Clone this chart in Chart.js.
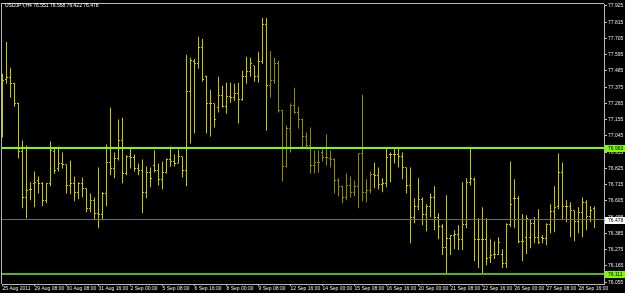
<!DOCTYPE html>
<html>
<head>
<meta charset="utf-8">
<script src="https://cdn.jsdelivr.net/npm/chart.js@4.4.0/dist/chart.umd.min.js"></script>
<style>
  html, body { margin: 0; padding: 0; background: #000; }
  #wrap { width: 625px; height: 293px; }
</style>
</head>
<body>
<div id="wrap"><canvas id="chart"></canvas></div>
<script>
const symbol = 'USDJPY,H4';

// H4 bars, oldest first
const opens = [
  77.426, 77.426, 77.439, 77.399, 77.264, 76.940, 76.629, 76.683, 76.724, 76.744,
  76.724, 76.609, 76.724, 76.940, 76.825, 76.859, 76.852, 76.710, 76.724, 76.663,
  76.724, 76.690, 76.555, 76.609, 76.521, 76.515, 76.656, 76.866, 76.825, 76.893,
  77.014, 76.791, 76.906, 76.899, 76.825, 76.812, 76.663, 76.798, 76.845, 76.812,
  76.751, 76.798, 76.886, 76.872, 76.859, 76.906, 76.812, 77.345, 77.547, 77.534,
  77.642, 77.446, 77.264, 77.264, 77.237, 77.318, 77.243, 77.311, 77.304, 77.331,
  77.291, 77.446, 77.480, 77.520, 77.446, 77.547, 77.803, 77.385, 77.419, 77.534,
  77.216, 76.838, 77.095, 77.250, 77.203, 77.156, 77.041, 76.980, 76.845, 76.866,
  76.933, 76.899, 76.893, 76.886, 76.744, 76.704, 76.629, 76.710, 76.663, 76.704,
  76.926, 76.663, 76.677, 76.785, 76.778, 76.717, 76.724, 76.920, 76.920, 76.920,
  76.906, 76.832, 76.710, 76.494, 76.569, 76.616, 76.515, 76.569, 76.629, 76.494,
  76.434, 76.292, 76.353, 76.373, 76.380, 76.346, 76.447, 76.731, 76.751, 76.346,
  76.346, 76.346, 76.224, 76.245, 76.245, 76.245, 76.184, 76.447, 76.623, 76.623,
  76.332, 76.359, 76.359, 76.454, 76.359, 76.359, 76.353, 76.447, 76.535, 76.569,
  76.798, 76.569, 76.569, 76.542, 76.467, 76.528, 76.596, 76.501, 76.551
];
const highs = [
  77.466, 77.682, 77.507, 77.405, 77.270, 77.014, 76.980, 76.731, 76.805, 76.771,
  76.731, 76.724, 77.007, 76.960, 76.973, 76.933, 76.852, 76.879, 76.771, 76.731,
  76.764, 76.690, 76.656, 76.629, 76.832, 76.663, 76.987, 77.237, 76.933, 77.156,
  77.169, 76.913, 76.967, 76.920, 76.859, 76.886, 76.838, 76.832, 76.946, 76.859,
  76.872, 76.893, 76.973, 76.920, 76.953, 76.906, 77.594, 77.574, 77.567, 77.716,
  77.702, 77.453, 77.358, 77.264, 77.446, 77.385, 77.405, 77.405, 77.399, 77.405,
  77.486, 77.581, 77.574, 77.520, 77.615, 77.844, 77.844, 77.621, 77.574, 77.554,
  77.223, 77.115, 77.264, 77.372, 77.243, 77.162, 77.068, 77.102, 76.946, 76.946,
  76.953, 77.054, 76.946, 76.893, 76.758, 76.710, 76.791, 76.771, 76.744, 76.926,
  77.324, 76.751, 76.805, 76.866, 76.832, 76.758, 76.967, 76.933, 76.967, 76.967,
  76.933, 76.832, 76.832, 76.623, 76.758, 76.629, 76.582, 76.656, 76.704, 76.521,
  76.447, 76.643, 76.373, 76.407, 76.440, 76.731, 76.758, 76.967, 76.764, 76.488,
  76.562, 76.488, 76.346, 76.332, 76.359, 76.278, 76.454, 76.872, 76.751, 76.636,
  76.515, 76.508, 76.481, 76.494, 76.548, 76.373, 76.454, 76.582, 76.704, 76.926,
  76.866, 76.609, 76.596, 76.542, 76.562, 76.629, 76.609, 76.569, 76.568
];
const lows = [
  77.034, 77.399, 77.304, 77.243, 76.893, 76.555, 76.488, 76.609, 76.562, 76.656,
  76.569, 76.589, 76.704, 76.791, 76.805, 76.825, 76.656, 76.650, 76.602, 76.616,
  76.629, 76.528, 76.528, 76.474, 76.420, 76.474, 76.569, 76.778, 76.758, 76.879,
  76.724, 76.778, 76.825, 76.805, 76.778, 76.521, 76.623, 76.697, 76.798, 76.710,
  76.683, 76.791, 76.838, 76.838, 76.859, 76.764, 76.704, 76.994, 77.061, 77.500,
  77.412, 77.061, 77.041, 77.102, 77.203, 77.237, 77.196, 77.270, 77.284, 77.129,
  77.284, 77.399, 77.446, 77.412, 77.405, 77.534, 77.081, 77.304, 77.399, 77.203,
  76.737, 76.832, 76.933, 77.196, 77.095, 76.967, 76.967, 76.791, 76.791, 76.798,
  76.872, 76.845, 76.832, 76.656, 76.636, 76.589, 76.609, 76.629, 76.636, 76.555,
  76.602, 76.596, 76.656, 76.690, 76.683, 76.663, 76.697, 76.731, 76.859, 76.832,
  76.751, 76.656, 76.319, 76.454, 76.542, 76.440, 76.400, 76.494, 76.407, 76.346,
  76.238, 76.110, 76.238, 76.278, 76.272, 76.272, 76.420, 76.710, 76.197, 76.150,
  76.103, 76.170, 76.184, 76.211, 76.238, 76.150, 76.150, 76.427, 76.420, 76.319,
  76.197, 76.245, 76.285, 76.319, 76.312, 76.319, 76.305, 76.386, 76.393, 76.548,
  76.474, 76.461, 76.359, 76.332, 76.386, 76.359, 76.407, 76.461, 76.422
];
const closes = [
  77.419, 77.439, 77.399, 77.264, 76.940, 76.629, 76.677, 76.683, 76.731, 76.724,
  76.609, 76.724, 76.946, 76.812, 76.859, 76.852, 76.710, 76.724, 76.663, 76.724,
  76.690, 76.555, 76.609, 76.521, 76.515, 76.656, 76.866, 76.825, 76.893, 77.014,
  76.791, 76.906, 76.899, 76.825, 76.812, 76.663, 76.798, 76.758, 76.812, 76.751,
  76.798, 76.886, 76.872, 76.859, 76.906, 76.812, 77.345, 77.554, 77.534, 77.642,
  77.426, 77.264, 77.264, 77.156, 77.318, 77.243, 77.311, 77.304, 77.331, 77.291,
  77.446, 77.480, 77.534, 77.446, 77.547, 77.803, 77.385, 77.419, 77.534, 77.216,
  76.838, 77.095, 77.250, 77.203, 77.156, 77.041, 76.980, 76.845, 76.866, 76.866,
  76.899, 76.899, 76.886, 76.744, 76.704, 76.629, 76.710, 76.663, 76.704, 76.926,
  76.663, 76.677, 76.785, 76.778, 76.717, 76.724, 76.899, 76.920, 76.920, 76.906,
  76.832, 76.710, 76.494, 76.569, 76.616, 76.515, 76.569, 76.629, 76.494, 76.434,
  76.292, 76.353, 76.373, 76.380, 76.346, 76.447, 76.731, 76.758, 76.346, 76.346,
  76.346, 76.218, 76.238, 76.245, 76.326, 76.184, 76.447, 76.582, 76.623, 76.332,
  76.332, 76.488, 76.454, 76.359, 76.326, 76.353, 76.447, 76.535, 76.562, 76.798,
  76.569, 76.569, 76.542, 76.467, 76.528, 76.596, 76.501, 76.542, 76.478
];

// one label every 8 bars
const timeLabels = [
  '25 Aug 2011', '29 Aug 08:00', '30 Aug 08:00', '31 Aug 16:00', '2 Sep 00:00',
  '5 Sep 08:00', '6 Sep 16:00', '8 Sep 00:00', '9 Sep 08:00', '12 Sep 16:00',
  '14 Sep 00:00', '15 Sep 08:00', '16 Sep 16:00', '20 Sep 00:00', '21 Sep 08:00',
  '22 Sep 16:00', '26 Sep 00:00', '27 Sep 08:00', '28 Sep 16:00'
];
const priceTicks = [
  77.925, 77.815, 77.705, 77.595, 77.485, 77.375, 77.265, 77.155, 77.045,
  76.935, 76.825, 76.715, 76.605, 76.495, 76.385, 76.275, 76.165, 76.055
];
const levelLines = [76.963, 76.111];
const bidPrice = closes[closes.length - 1];

const FONT = "'Liberation Sans', sans-serif";
const barColor = (i) => (i >= 67 && i <= 92) ? '#8c8c00' : '#c8c800';

const ohlcPlugin = {
  id: 'ohlc',
  afterDatasetsDraw(chart) {
    const { ctx, chartArea: area, scales: { x, y } } = chart;
    ctx.save();
    // open / close ticks
    opens.forEach((o, i) => {
      const px = Math.floor(x.getPixelForValue(i));
      ctx.fillStyle = barColor(i);
      ctx.fillRect(px - 1, Math.floor(y.getPixelForValue(o)), 1, 1);
      ctx.fillRect(px + 1, Math.floor(y.getPixelForValue(closes[i])), 1, 1);
    });
    // bid line
    ctx.fillStyle = '#6a6a6a';
    ctx.fillRect(area.left, Math.floor(y.getPixelForValue(bidPrice)), area.right - area.left, 1);
    // horizontal levels
    ctx.fillStyle = '#7cfc00';
    ctx.fillRect(area.left, Math.round(y.getPixelForValue(levelLines[0])) - 1, area.right - area.left, 2);
    ctx.fillStyle = '#5fb010';
    ctx.fillRect(area.left, Math.round(y.getPixelForValue(levelLines[1])) - 1, area.right - area.left, 2);
    ctx.restore();
  },
  afterDraw(chart) {
    const { ctx, chartArea: area, scales: { y } } = chart;
    ctx.save();
    // frame
    ctx.fillStyle = '#b8b8b8';
    ctx.fillRect(area.left - 1, area.top - 1, 1, area.bottom - area.top + 1);
    ctx.fillRect(area.left - 1, area.top - 1, area.right - area.left + 1, 1);

    ctx.font = '5px ' + FONT;
    ctx.textBaseline = 'middle';
    const box = (v, bg) => {
      const py = Math.round(y.getPixelForValue(v));
      ctx.fillStyle = bg;
      ctx.fillRect(area.right + 1, py - 3, 625 - area.right - 1, 7);
      ctx.fillStyle = '#000';
      ctx.fillText(v.toFixed(3), area.right + 4, py + 0.5);
    };
    box(levelLines[0], '#7cfc00');
    box(levelLines[1], '#7cfc00');
    box(bidPrice, '#ffffff');

    // header
    const n = closes.length - 1;
    const head = [symbol, opens[n], highs[n], lows[n], closes[n]]
      .map(v => typeof v === 'number' ? v.toFixed(3) : v).join(' ');
    ctx.fillStyle = '#ffffff';
    ctx.fillText(head, 5, 6);
    ctx.restore();
  }
};

new Chart(document.getElementById('chart'), {
  type: 'bar',
  data: {
    datasets: [{
      data: highs.map((h, i) => ({ x: i, y: [lows[i], h] })),
      backgroundColor: (c) => barColor(c.dataIndex),
      borderWidth: 0,
      barThickness: 1,
      inflateAmount: 0
    }]
  },
  options: {
    responsive: true,
    maintainAspectRatio: false,
    animation: false,
    events: [],
    layout: { autoPadding: false, padding: { left: 2, top: 3, right: 0, bottom: 0 } },
    plugins: { legend: { display: false }, tooltip: { enabled: false } },
    scales: {
      x: {
        type: 'linear',
        min: -0.125,
        max: 150.375,
        offset: false,
        afterBuildTicks: (s) => { s.ticks = timeLabels.map((_, k) => ({ value: k * 8 })); },
        afterFit: (s) => { s.height = 9; },
        grid: { drawOnChartArea: false, offset: false, tickLength: 2, color: '#b8b8b8' },
        border: { color: '#b8b8b8' },
        ticks: {
          autoSkip: false,
          maxRotation: 0,
          align: 'start',
          padding: 0,
          color: '#e8e8e8',
          font: { family: FONT, size: 5 },
          callback: (v) => timeLabels[v / 8]
        }
      },
      y: {
        type: 'linear',
        position: 'right',
        min: 76.0424,
        max: 77.9385,
        afterBuildTicks: (s) => { s.ticks = priceTicks.map(v => ({ value: v })); },
        afterFit: (s) => { s.width = 21; },
        grid: { drawOnChartArea: false, tickLength: 3, color: '#b8b8b8' },
        border: { color: '#b8b8b8' },
        ticks: {
          padding: 1,
          color: '#e8e8e8',
          font: { family: FONT, size: 5 },
          callback: (v) => v.toFixed(3)
        }
      }
    }
  },
  plugins: [ohlcPlugin]
});
</script>
</body>
</html>
